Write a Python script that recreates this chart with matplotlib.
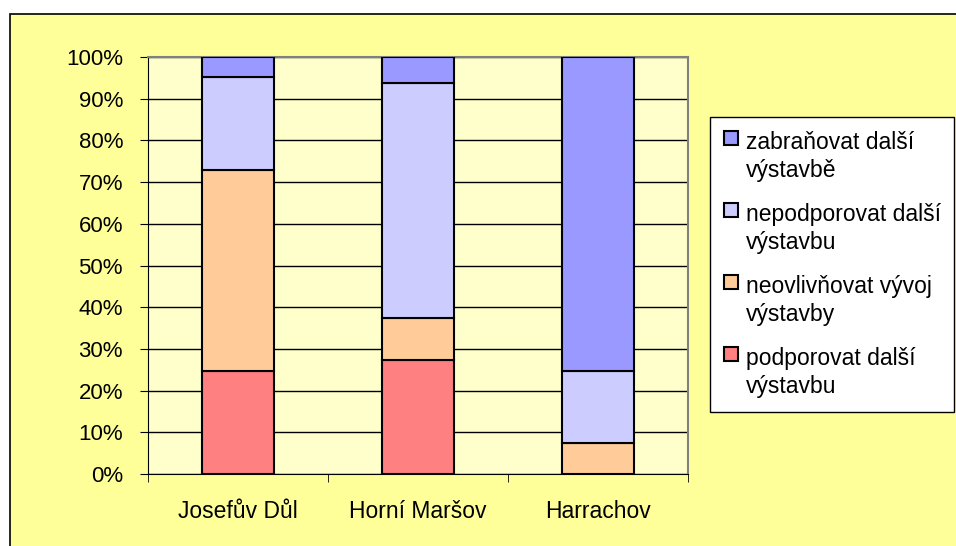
import numpy as np
import matplotlib.pyplot as plt
from matplotlib.patches import Rectangle

plt.rcParams['font.family'] = ['Liberation Sans', 'DejaVu Sans']

# data (percent)
places = ["Josefův Důl", "Horní Maršov", "Harrachov"]
podporovat = [24.8, 27.3, 0.0]
neovlivnovat = [48.0, 10.1, 7.5]
nepodporovat = [22.5, 56.4, 17.3]
zabranovat = [4.7, 6.2, 75.2]

series = [
    ("podporovat další\nvýstavbu", podporovat, "#FF8080"),
    ("neovlivňovat vývoj\nvýstavby", neovlivnovat, "#FFCC99"),
    ("nepodporovat další\nvýstavbu", nepodporovat, "#CCCCFF"),
    ("zabraňovat další\nvýstavbě", zabranovat, "#9999FF"),
]

fig = plt.figure(figsize=(9.56, 5.46), dpi=100)
fig.patch.set_facecolor("white")

# yellow chart area with black border
fig.patches.append(Rectangle((10 / 956, -0.01), 1.0, 1 - 14 / 546 + 0.01,
                             transform=fig.transFigure, facecolor="#FFFF99",
                             edgecolor="black", linewidth=1.2, zorder=-10))

ax = fig.add_axes([148 / 956, 1 - 474 / 546, 540 / 956, 417 / 546])
ax.set_facecolor("#FFFFCC")

x = np.arange(len(places))
bottom = np.zeros(len(places))
handles = []
for label, vals, color in series:
    vals = np.array(vals)
    b = ax.bar(x, vals, 0.4, bottom=bottom, color=color, edgecolor="black",
               linewidth=1.5, label=label, zorder=3)
    handles.append(b)
    bottom += vals

ax.set_xlim(-0.5, 2.5)
ax.set_ylim(0, 100)
ax.set_yticks(np.arange(0, 101, 10))
ax.set_yticklabels([f"{v}%" for v in range(0, 101, 10)], fontsize=16)
ax.set_xticks(x)
ax.set_xticklabels(places, fontsize=16.5)
ax.set_xticks([-0.5, 0.5, 1.5, 2.5], minor=True)
ax.tick_params(axis="x", which="major", length=0, pad=19)
ax.tick_params(axis="x", which="minor", length=6, color="black")
ax.tick_params(axis="y", length=6, color="black", pad=12)
ax.yaxis.grid(True, color="black", linewidth=1)
ax.set_axisbelow(True)
for s in ["top", "right"]:
    ax.spines[s].set_color("#808080")
    ax.spines[s].set_linewidth(1.5)
ax.spines["left"].set_color("black")
ax.spines["bottom"].set_color("black")

leg = fig.legend(handles[::-1], [s[0] for s in series][::-1],
                 loc="upper left", bbox_to_anchor=(710 / 956, 1 - 117 / 546),
                 fontsize=16.5, frameon=True, fancybox=False, edgecolor="black",
                 facecolor="white", framealpha=1, handlelength=0.6,
                 handleheight=0.6, handletextpad=0.35, labelspacing=0.9,
                 borderpad=0.6, borderaxespad=0)
leg.get_frame().set_linewidth(1.0)
for h in leg.legend_handles:
    h.set_linewidth(1.5)
for t in leg.get_texts():
    t.set_linespacing(1.3)
# put the square next to the first line of each label
for col in leg._legend_handle_box.get_children():
    for item in col.get_children():
        item.align = "top"

fig.savefig("out.png", dpi=100, facecolor=fig.get_facecolor())
